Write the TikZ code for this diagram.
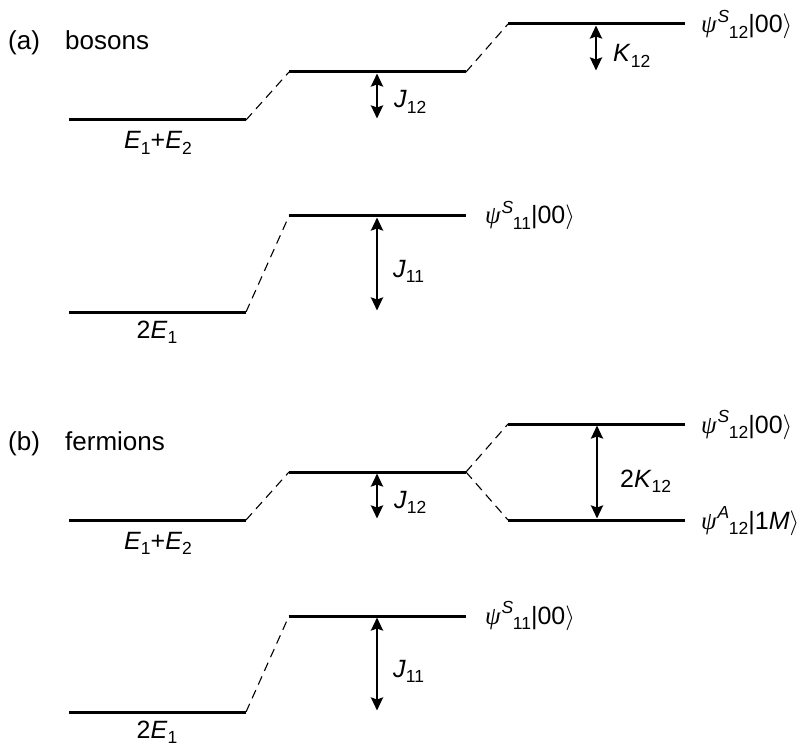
\documentclass[tikz,border=0pt]{standalone}
\usepackage{fontspec}
\setmainfont{Liberation Sans}
\newfontfamily\psifont{Liberation Serif}
\usetikzlibrary{arrows.meta}
\newcommand\dn[1]{\raisebox{-0.22em}{\fontsize{17.5}{17.5}\selectfont #1}}
\newcommand\up[1]{\raisebox{0.42em}{\fontsize{17.5}{17.5}\selectfont #1}}
\newcommand\psis[3]{{\psifont\itshape ψ}\kern1pt\up{\textit{#1}}\kern-0.5pt\dn{#2}|#3$\rangle$}
\begin{document}
\begin{tikzpicture}[x=1pt,y=-1pt,
  every node/.style={font=\fontsize{25}{29}\selectfont, inner sep=0pt},
  head/.style={font=\fontsize{26}{30}\selectfont},
  energy/.style={line width=3pt},
  corr/.style={line width=1.1pt, dash pattern=on 9pt off 6pt},
  gap/.style={line width=2.4pt, {Stealth[length=13pt,width=12pt,inset=2pt]}-{Stealth[length=13pt,width=12pt,inset=2pt]}, shorten <=1.5pt, shorten >=1.5pt}
]
\useasboundingbox (0,0) rectangle (811,746);

\foreach \p/\dy in {a/0,b/400}{
  % levels
  \coordinate (\p L1w) at (69,120+\dy);  \coordinate (\p L1e) at (246,120+\dy);
  \coordinate (\p L2w) at (69,312+\dy);  \coordinate (\p L2e) at (246,312+\dy);
  \coordinate (\p M1w) at (289,72+\dy);  \coordinate (\p M1e) at (466,72+\dy);
  \coordinate (\p M2w) at (289,216+\dy); \coordinate (\p M2e) at (466,216+\dy);
  \coordinate (\p R1w) at (508,24+\dy);  \coordinate (\p R1e) at (685,24+\dy);
  \draw[energy] (\p L1w) -- (\p L1e);
  \draw[energy] (\p L2w) -- (\p L2e);
  \draw[energy] (\p M1w) -- (\p M1e);
  \draw[energy] (\p M2w) -- (\p M2e);
  \draw[energy] (\p R1w) -- (\p R1e);
  % correlation lines
  \draw[corr] (\p L1e) -- (\p M1w);
  \draw[corr] (\p L2e) -- (\p M2w);
  \draw[corr] (\p M1e) -- (\p R1w);
  % arrows
  \coordinate (\p J12t) at (377,72+\dy);  \coordinate (\p J12b) at (377,120+\dy);
  \coordinate (\p J11t) at (377,216+\dy); \coordinate (\p J11b) at (377,312+\dy);
  \draw[gap] (\p J12t) -- (\p J12b);
  \draw[gap] (\p J11t) -- (\p J11b);
  % labels
  \node[anchor=base] (\p E12) at (158,149+\dy) {\textit{E}\dn{1}+\textit{E}\dn{2}};
  \node[anchor=base] (\p E11) at (157,338+\dy) {2\textit{E}\dn{1}};
  \node[anchor=base west] (\p J12) at (394,108+\dy) {\textit{J}\dn{12}};
  \node[anchor=base west] (\p J11) at (393,277+\dy) {\textit{J}\dn{11}};
  \node[anchor=base west] (\p S11) at (485,224+\dy) {\psis{S}{11}{00}};
  \node[anchor=base west] (\p S12) at (701,33+\dy) {\psis{S}{12}{00}};
}

% panel (a)
\node[head, anchor=base west] (alab) at (8,50) {(a)};
\node[head, anchor=base west] (aname) at (65,50) {bosons};
\coordinate (aK12b) at (596,72);
\draw[gap] (aR1w -| aK12b) -- (aK12b);
\node[anchor=base west] (aK12) at (613,62) {\textit{K}\dn{12}};

% panel (b)
\node[head, anchor=base west] (blab) at (8,450) {(b)};
\node[head, anchor=base west] (bname) at (65,450) {fermions};
\coordinate (bR2w) at (508,520); \coordinate (bR2e) at (685,520);
\draw[energy] (bR2w) -- (bR2e);
\draw[corr] (bM1e) -- (bR2w);
\coordinate (bK12t) at (597,424); \coordinate (bK12b) at (597,520);
\draw[gap] (bK12t) -- (bK12b);
\node[anchor=base west] (bK12) at (620,487) {2\textit{K}\dn{12}};
\node[anchor=base west] (bA12) at (701,529) {\psis{A}{12}{1\textit{M}}};
\end{tikzpicture}
\end{document}
